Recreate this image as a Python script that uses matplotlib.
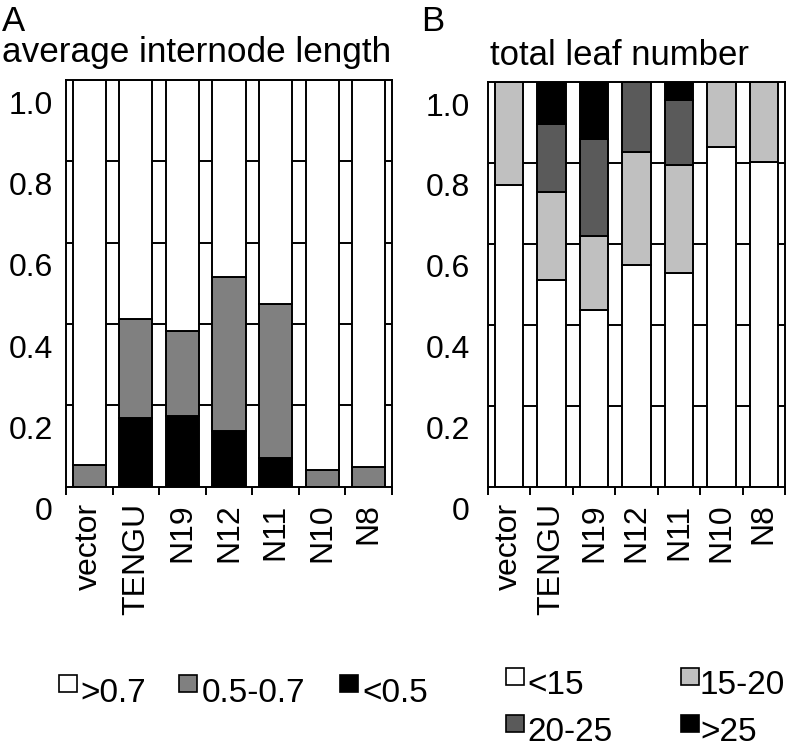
import numpy as np
import matplotlib.pyplot as plt
from matplotlib.patches import Rectangle
from matplotlib.transforms import ScaledTranslation

plt.rcParams['font.family'] = ['Liberation Sans', 'DejaVu Sans']

# ===================== DADOS =====================
lines = ['vector', 'TENGU', 'N19', 'N12', 'N11', 'N10', 'N8']

# A: average internode length (fracao por classe, de baixo para cima)
int_lt05 = [0.0, 0.168, 0.174, 0.137, 0.070, 0.0, 0.0]
int_mid = [0.053, 0.245, 0.208, 0.378, 0.380, 0.041, 0.048]
int_gt07 = [0.947, 0.587, 0.618, 0.485, 0.550, 0.959, 0.952]
int_labels = ['>0.7', '0.5-0.7', '<0.5']

# B: total leaf number (fracao por classe, de baixo para cima)
leaf_lt15 = [0.745, 0.511, 0.437, 0.549, 0.529, 0.840, 0.802]
leaf_15_20 = [0.255, 0.218, 0.182, 0.278, 0.266, 0.160, 0.198]
leaf_20_25 = [0.0, 0.166, 0.241, 0.173, 0.161, 0.0, 0.0]
leaf_gt25 = [0.0, 0.105, 0.140, 0.0, 0.044, 0.0, 0.0]
leaf_labels = ['<15', '15-20', '20-25', '>25']

W, H = 797, 748
LW = 1.4


def fx(x):
    return x / W


def fy(y):
    return 1 - y / H


def style_axes(ax, ypad):
    n = len(lines)
    ax.set_xlim(-0.5, n - 0.5)
    ax.set_ylim(0, 1)
    ax.set_axisbelow(True)
    ax.grid(False)
    for y in [0.2, 0.4, 0.6, 0.8]:
        ax.axhline(y, color='black', lw=LW, zorder=0)
    for sp in ax.spines.values():
        sp.set_linewidth(LW)
    ax.set_xticks(np.arange(n + 1) - 0.5)
    ax.set_xticklabels([])
    ax.set_xticks(np.arange(n), minor=True)
    ax.set_xticklabels(lines, minor=True, rotation=90, va='top', fontsize=23)
    ax.tick_params(axis='x', which='major', direction='out', length=6, width=LW)
    ax.tick_params(axis='x', which='minor', length=0, pad=12)
    ax.set_yticks([0, 0.2, 0.4, 0.6, 0.8, 1.0])
    ax.set_yticklabels(['0', '0.2', '0.4', '0.6', '0.8', '1.0'], fontsize=23)
    ax.tick_params(axis='y', length=0, pad=ypad)
    off = ScaledTranslation(0, -0.22, ax.figure.dpi_scale_trans)
    for lab in ax.get_yticklabels():
        lab.set_transform(lab.get_transform() + off)


def stack(ax, layers, colors, width):
    x = np.arange(len(lines))
    bottom = np.zeros(len(lines))
    for vals, c in zip(layers, colors):
        vals = np.array(vals)
        ax.bar(x, vals, width, bottom=bottom, color=c, edgecolor='black',
               linewidth=LW, zorder=2)
        bottom = bottom + vals


fig = plt.figure(figsize=(W / 100, H / 100), dpi=100)

# ===================== PAINEL A =====================
ax_a = fig.add_axes([fx(66), fy(486.7), (392 - 66) / W, (486.7 - 80) / H])
stack(ax_a, [int_lt05, int_mid, int_gt07], ['black', '#808080', 'white'], 0.71)
style_axes(ax_a, 9.5)

# ===================== PAINEL B =====================
ax_b = fig.add_axes([fx(488), fy(486.7), (785 - 488) / W, (486.7 - 82) / H])
stack(ax_b, [leaf_lt15, leaf_15_20, leaf_20_25, leaf_gt25],
      ['white', '#c0c0c0', '#5a5a5a', 'black'], 0.67)
style_axes(ax_b, 13)

# ===================== TITULOS =====================
fig.text(fx(2), fy(31), 'A', fontsize=25, va='baseline')
fig.text(fx(2), fy(62), 'average internode length', fontsize=25.3, va='baseline')
fig.text(fx(421), fy(31), 'B', fontsize=25, va='baseline')
fig.text(fx(490), fy(65), 'total leaf number', fontsize=25, va='baseline')


# ===================== LEGENDAS =====================
def legend_item(xs, ytop, xt, base, color, label):
    fig.add_artist(Rectangle((fx(xs), fy(ytop + 17)), 18 / W, 17 / H,
                             transform=fig.transFigure, facecolor=color,
                             edgecolor='black', linewidth=1.2))
    fig.text(fx(xt), fy(base), label, fontsize=24, va='baseline')


a_colors = ['white', '#808080', 'black']
for lab, c, xs, xt in zip(int_labels, a_colors, [59, 179, 340], [80, 202, 362]):
    legend_item(xs, 675, xt, 702, c, lab)

b_colors = ['white', '#c0c0c0', '#5a5a5a', 'black']
b_pos = [(506, 668, 527, 694), (681, 668, 700, 694),
         (506, 715, 527, 741), (681, 715, 700, 741)]
for lab, c, (xs, yt, xt, base) in zip(leaf_labels, b_colors, b_pos):
    legend_item(xs, yt, xt, base, c, lab)

fig.savefig('out.png', dpi=100)
